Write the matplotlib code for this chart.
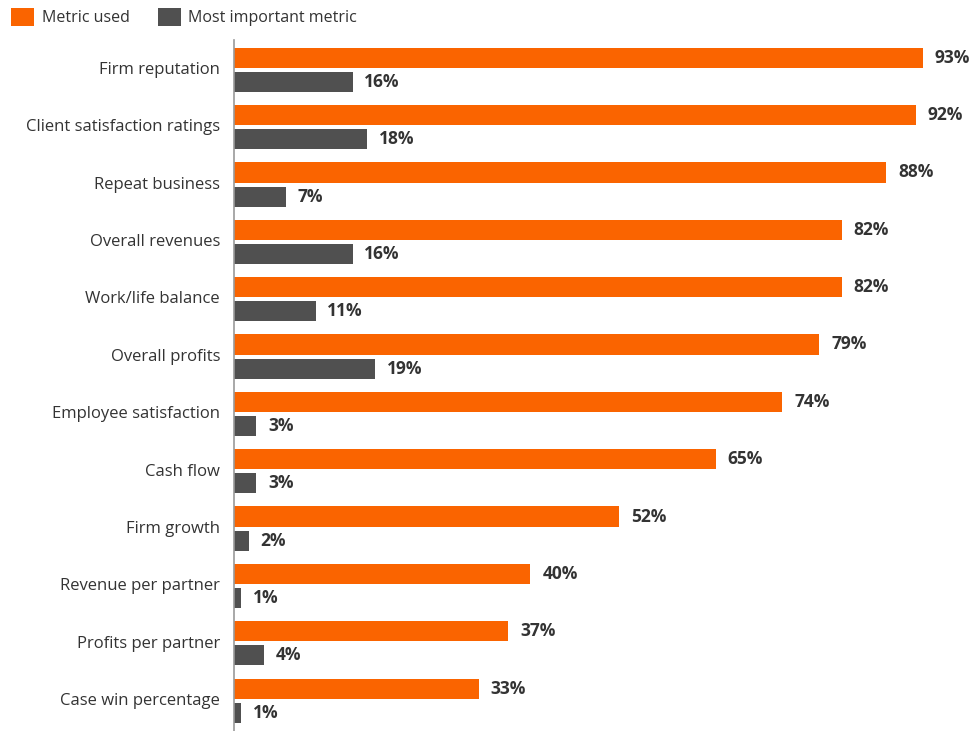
import matplotlib.pyplot as plt
import numpy as np

categories = ["Firm reputation", "Client satisfaction ratings", "Repeat business",
              "Overall revenues", "Work/life balance", "Overall profits",
              "Employee satisfaction", "Cash flow", "Firm growth",
              "Revenue per partner", "Profits per partner", "Case win percentage"]
metric_used = [93, 92, 88, 82, 82, 79, 74, 65, 52, 40, 37, 33]
most_important = [16, 18, 7, 16, 11, 19, 3, 3, 2, 1, 4, 1]

ORANGE = "#fa6400"
GRAY = "#505050"
TEXT = "#333333"

plt.rcParams['font.family'] = ['Open Sans', 'DejaVu Sans']

W, H = 978, 731
fig = plt.figure(figsize=(W / 100, H / 100), dpi=100)
ax = fig.add_axes([234 / W, 0, 741 / W, (H - 40) / H])

y = np.arange(len(categories))
bh = 0.35
off = 0.21
ax.barh(y - off, metric_used, height=bh, color=ORANGE, label="Metric used")
ax.barh(y + off, most_important, height=bh, color=GRAY, label="Most important metric")

# value labels just past each bar end
for yi, v in zip(y - off, metric_used):
    ax.text(v + 1.6, yi, f"{v}%", va="center", ha="left", fontsize=12.5,
            fontweight="bold", color=TEXT)
for yi, v in zip(y + off, most_important):
    ax.text(v + 1.6, yi, f"{v}%", va="center", ha="left", fontsize=12.5,
            fontweight="bold", color=TEXT)

ax.set_xlim(0, 100)
ax.set_ylim(11.53, -0.52)
ax.set_yticks(y - 0.03)
ax.set_yticklabels(categories, fontsize=12, color=TEXT)
ax.tick_params(axis="y", length=0, pad=10)
ax.set_xticks([])
for s in ["top", "right", "bottom"]:
    ax.spines[s].set_visible(False)
ax.spines["left"].set_color("#999999")
ax.spines["left"].set_linewidth(1.2)

fig.legend(loc="upper left", bbox_to_anchor=(0.0, 1.005), ncol=2, frameon=False,
           fontsize=11.5, handlelength=1.4, handleheight=1.4, handletextpad=0.5,
           columnspacing=1.8, borderaxespad=0.3, labelcolor=TEXT)

fig.savefig("out.png", dpi=100)
